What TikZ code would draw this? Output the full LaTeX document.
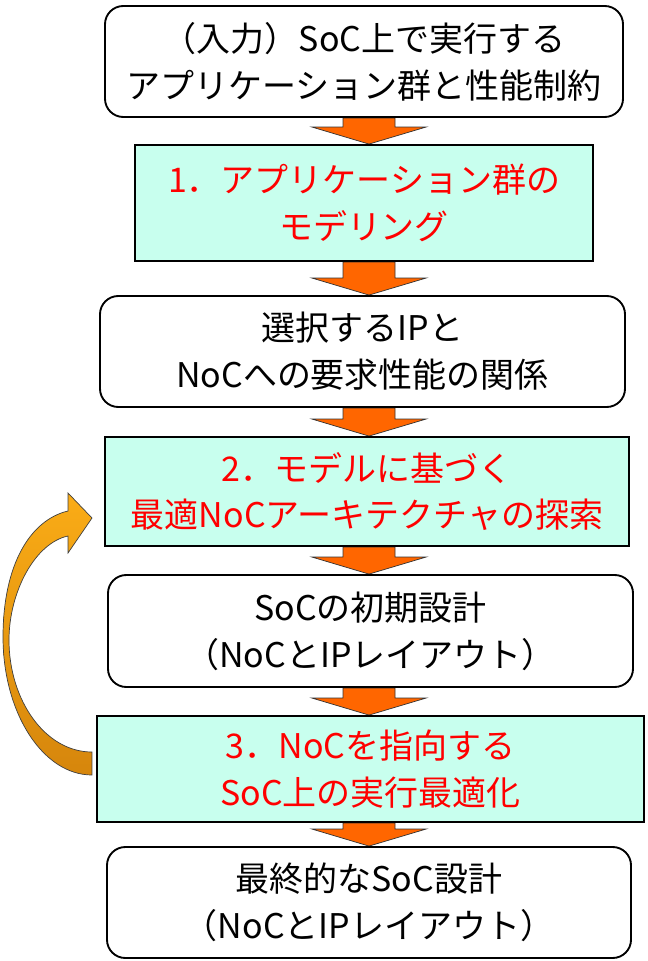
\documentclass[tikz,border=0pt]{standalone}
\usepackage{fontspec}
\setmainfont{Noto Sans CJK JP}
\usepackage{tikz}
\usetikzlibrary{calc,backgrounds}

\definecolor{mint}{RGB}{200,255,238}
\definecolor{blockorange}{RGB}{255,102,0}
\definecolor{loopyellow}{RGB}{250,172,22}
\definecolor{loopbrown}{RGB}{214,134,12}

\tikzset{
  stage/.style={draw, line width=1.6pt, rounded corners=0.55cm, fill=white,
    align=center, inner sep=0pt, font=\fontsize{29}{40}\selectfont},
  task/.style={stage, sharp corners, fill=mint, text=red},
  flowarrow/.style={draw=black!80, line width=0.6pt, fill=blockorange},
  looparrow/.style={draw=black!75, line width=0.6pt, top color=loopyellow, bottom color=loopbrown},
}

% block arrow from the bottom of #1 to the top of #2
\newcommand{\flowarrow}[2]{%
  \draw[flowarrow] let \p1=(axis |- #1.south), \p2=(axis |- #2.north) in
    (\x1-0.78cm,\y1) -- (\x1+0.78cm,\y1) -- (\x1+0.78cm,\y2+0.51cm)
    -- (\x1+1.71cm,\y2+0.51cm) -- (\x2,\y2) -- (\x1-1.71cm,\y2+0.51cm)
    -- (\x1-0.78cm,\y2+0.51cm) -- cycle;}

\begin{document}
\begin{tikzpicture}[x=0.03cm, y=-0.03cm]
    \useasboundingbox (0,0) rectangle (647,961);
    \coordinate (axis) at (369,0);

    \node[stage, minimum width=15.54cm, minimum height=3.33cm] (input) at (364,61.5)
        {（入力）SoC上で実行する\\アプリケーション群と性能制約};
    \node[task, minimum width=13.74cm, minimum height=3.48cm] (model) at (364,203)
        {1．アプリケーション群の\\モデリング};
    \node[stage, minimum width=15.75cm, minimum height=3.33cm] (relation) at (362.5,351.5)
        {選択するIPと\\NoCへの要求性能の関係};
    \node[task, minimum width=15.72cm, minimum height=3.27cm] (explore) at (367,491.5)
        {2．モデルに基づく\\最適NoCアーキテクチャの探索};
    \node[stage, minimum width=15.75cm, minimum height=3.36cm] (initial) at (370.5,631)
        {SoCの初期設計\\（NoCとIPレイアウト）};
    \node[task, minimum width=16.41cm, minimum height=3.18cm] (optimize) at (370.5,769)
        {3．NoCを指向する\\SoC上の実行最適化};
    \node[stage, minimum width=15.72cm, minimum height=3.33cm] (final) at (369,902.5)
        {最終的なSoC設計\\（NoCとIPレイアウト）};

    \begin{scope}[on background layer]
        \flowarrow{input}{model}
        \flowarrow{model}{relation}
        \flowarrow{relation}{explore}
        \flowarrow{explore}{initial}
        \flowarrow{initial}{optimize}
        \flowarrow{optimize}{final}
    \end{scope}

    % feedback from step 3 back to step 2
    \draw[looparrow] (92,775) .. controls (43,775) and (3,713) .. (3,637)
        .. controls (3,565) and (30,520) .. (68,511)
        -- (68,493) -- (92,518) -- (68,553) -- (68,536)
        .. controls (35,543) and (9,592) .. (9,640)
        .. controls (9,700) and (45,752) .. (92,752) -- cycle;
\end{tikzpicture}
\end{document}
